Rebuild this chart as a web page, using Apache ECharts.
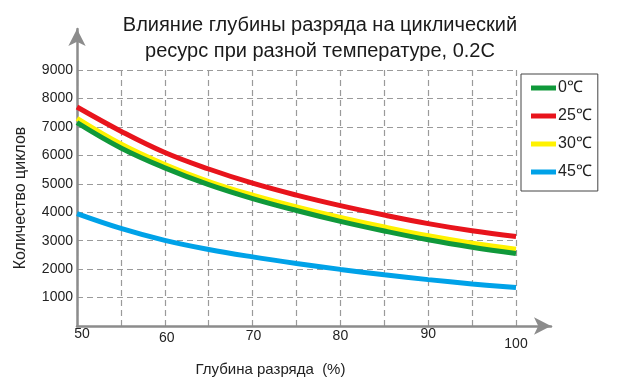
<!DOCTYPE html>
<html><head><meta charset="utf-8">
<script src="https://cdn.jsdelivr.net/npm/echarts@6/dist/echarts.min.js"></script>
<style>html,body{margin:0;padding:0;background:#fff}#c{width:640px;height:391px}</style>
</head><body><div id="c"></div>
<script>
const titleText = 'Влияние глубины разряда на циклический\nресурс при разной температуре, 0.2C';
const xName = 'Глубина разряда  (%)';
const yName = 'Количество циклов';
const depth = [50, 55, 60, 65, 70, 75, 80, 85, 90, 95, 100];
const t0  = [7150, 6260, 5560, 4970, 4480, 4060, 3680, 3340, 3030, 2770, 2550];
const t25 = [7700, 6850, 6100, 5520, 5020, 4600, 4230, 3900, 3600, 3350, 3150];
const t30 = [7300, 6400, 5680, 5080, 4600, 4190, 3820, 3480, 3170, 2910, 2700];
const t45 = [3950, 3430, 3010, 2690, 2430, 2200, 1990, 1800, 1630, 1480, 1350];
const names = ['0℃', '25℃', '30℃', '45℃'];
const colors = ['#10993a', '#e8141c', '#fff200', '#00a2e8'];
const yTicks = [1000, 2000, 3000, 4000, 5000, 6000, 7000, 8000, 9000];

const seriesData = [t0, t25, t30, t45];
const font = 'Liberation Sans, Arial, sans-serif';
const chart = echarts.init(document.getElementById('c'));
const labelOffsets = {50:[0,0,0,10], 60:[4,0,0,4], 70:[2,0,0,2], 80:[2,0,0,0], 90:[0,0,0,0], 100:[10,0,0,0]};
const rich = {};
Object.keys(labelOffsets).forEach(k => { rich['l' + k] = {padding: labelOffsets[k], fontSize: 14, color: '#222', fontFamily: font}; });

const order = [2, 0, 1, 3];
chart.setOption({
  animation: false,
  title: {
    text: titleText, left: 'center', top: 7,
    textStyle: {fontSize: 20, fontWeight: 'normal', color: '#1a1a1a', fontFamily: font, lineHeight: 26}
  },
  legend: {
    orient: 'vertical', left: 521, top: 74,
    data: names.map(n => ({name: n, icon: 'rect'})),
    itemWidth: 25, itemHeight: 5, itemGap: 12,
    padding: [6, 6, 11, 10],
    borderColor: '#444', borderWidth: 1,
    textStyle: {fontSize: 16, color: '#222', fontFamily: font, padding: [0, 0, 0, -3]}
  },
  grid: [
    {left: 77, right: 124, top: 70, bottom: 65},
    {left: 77, right: 89, top: 29, bottom: 65}
  ],
  xAxis: [{
    type: 'value', gridIndex: 0, min: 50, max: 100, interval: 5,
    name: xName, nameLocation: 'middle', nameGap: 36,
    nameTextStyle: {fontSize: 15, color: '#222', fontFamily: font, padding: [0, 52, 0, 0]},
    axisLine: {show: false}, axisTick: {show: false},
    axisLabel: {margin: 1, formatter: v => (v % 10 === 0 ? '{l' + v + '|' + v + '}' : ''), rich: rich},
    splitLine: {show: true, lineStyle: {color: '#9a9a9a', type: [6, 4], width: 1.2}}
  }, {
    type: 'value', gridIndex: 1, min: 0, max: 1,
    axisLine: {show: true, symbol: ['none', 'arrow'], symbolSize: [13, 17], lineStyle: {color: '#8c8c8c', width: 2.5}},
    axisTick: {show: false}, axisLabel: {show: false}, splitLine: {show: false}
  }],
  yAxis: [{
    type: 'value', gridIndex: 0, min: 0, max: 9000, interval: 1000,
    name: yName, nameLocation: 'middle', nameGap: 48,
    nameTextStyle: {fontSize: 16, color: '#222', fontFamily: font},
    axisLine: {show: false}, axisTick: {show: false},
    axisLabel: {margin: 4, fontSize: 14, color: '#222', fontFamily: font,
      formatter: v => (yTicks.indexOf(v) >= 0 ? String(v) : '')},
    splitLine: {show: true, lineStyle: {color: '#9a9a9a', type: [6, 4], width: 1.2}}
  }, {
    type: 'value', gridIndex: 1, min: 0, max: 1,
    axisLine: {show: true, symbol: ['none', 'arrow'], symbolSize: [13, 17], lineStyle: {color: '#8c8c8c', width: 2.5}},
    axisTick: {show: false}, axisLabel: {show: false}, splitLine: {show: false}
  }],
  series: order.map(i => ({
    name: names[i], type: 'line', xAxisIndex: 0, yAxisIndex: 0,
    smooth: 0.4, showSymbol: false, symbol: 'none',
    lineStyle: {width: 5, color: colors[i]},
    itemStyle: {color: colors[i]},
    data: depth.map((d, j) => [d, seriesData[i][j]])
  }))
});
</script></body></html>
